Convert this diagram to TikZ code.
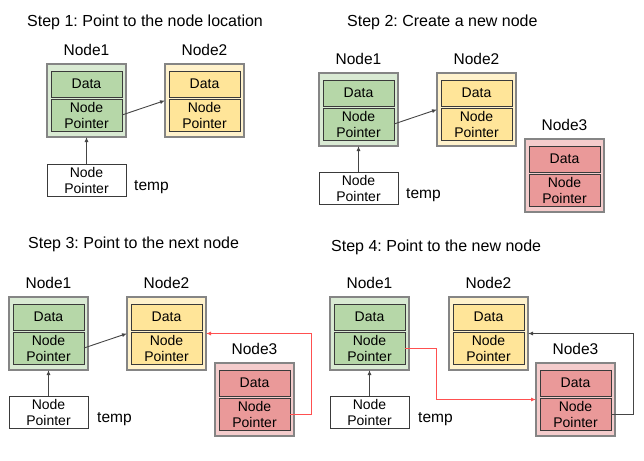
\documentclass[tikz,border=0pt]{standalone}
\usepackage{fontspec}
\setmainfont{Liberation Sans}
\usetikzlibrary{arrows.meta,calc}
\frenchspacing
\definecolor{gOut}{HTML}{D9EAD3}
\definecolor{gIn}{HTML}{B6D7A8}
\definecolor{yOut}{HTML}{FFF2CC}
\definecolor{yIn}{HTML}{FFE599}
\definecolor{rOut}{HTML}{F4CCCC}
\definecolor{rIn}{HTML}{EA9999}
\definecolor{oBord}{HTML}{858585}
\definecolor{iBord}{HTML}{3A3A3A}
\definecolor{aGray}{HTML}{454545}
\definecolor{aRed}{HTML}{FF5050}
\tikzset{
  outerbox/.style={draw=oBord, line width=1.1pt, minimum width=79pt, minimum height=73pt, inner sep=0pt, outer sep=0pt, anchor=north west},
  innerbox/.style={draw=iBord, line width=0.9pt, minimum width=71pt, inner sep=0pt, outer sep=0pt, anchor=north west, align=center, font=\fontsize{14}{16}\selectfont},
  tempbox/.style={draw=iBord, fill=white, line width=0.9pt, minimum width=79pt, minimum height=32pt, inner sep=0pt, outer sep=0pt, anchor=north west, align=center, font=\fontsize{14}{16}\selectfont},
  lbl/.style={font=\fontsize{15.5}{18}\selectfont, inner sep=0pt, anchor=base},
  ttl/.style={font=\fontsize{16}{19}\selectfont, inner sep=0pt, anchor=base west},
  tmp/.style={font=\fontsize{15.5}{18}\selectfont, inner sep=0pt, anchor=base west},
  ptr/.style={draw=aGray, line width=0.9pt, -{Latex[length=5pt,width=4pt]}},
  redptr/.style={draw=aRed, line width=0.9pt, -{Latex[length=5pt,width=4pt]}}
}
\newcommand\llnode[6]{%
  \node[outerbox, fill=#4] (#1) at (#2,#3) {};
  \node[innerbox, fill=#5, minimum height=26pt] (#1d) at ($(#1.north west)+(4,7)$) {Data};
  \node[innerbox, fill=#5, minimum height=32pt] (#1p) at ($(#1.north west)+(4,35)$) {Node\\Pointer};
  \node[lbl] (#1l) at ($(#1.north)+(0,-8.5)$) {#6};
}
\begin{document}
\begin{tikzpicture}[x=1pt,y=-1pt]
\useasboundingbox (0,0) rectangle (644,460);
% ---------- Step 1
\node[ttl] (t1) at (27,27) {Step 1: Point to the node location};
\llnode{a1}{47}{64}{gOut}{gIn}{Node1}
\llnode{a2}{165}{64}{yOut}{yIn}{Node2}
\node[tempbox] (at) at (47,164) {Node\\Pointer};
\node[tmp] (atl) at (134,190) {temp};
\draw[ptr] (a1p.east) -- (a2.west);
\draw[ptr] (at.north) -- (a1.south);
% ---------- Step 2
\node[ttl] (t2) at (347,27) {Step 2: Create a new node};
\llnode{b1}{319}{73}{gOut}{gIn}{Node1}
\llnode{b2}{437}{73}{yOut}{yIn}{Node2}
\llnode{b3}{525}{139}{rOut}{rIn}{Node3}
\node[tempbox] (bt) at (319,172) {Node\\Pointer};
\node[tmp] (btl) at (406,198) {temp};
\draw[ptr] (b1p.east) -- (b2.west);
\draw[ptr] (bt.north) -- (b1.south);
% ---------- Step 3
\node[ttl] (t3) at (28,248) {Step 3: Point to the next node};
\llnode{c1}{9}{297}{gOut}{gIn}{Node1}
\llnode{c2}{127}{297}{yOut}{yIn}{Node2}
\llnode{c3}{215}{363}{rOut}{rIn}{Node3}
\node[tempbox] (ct) at (9,396) {Node\\Pointer};
\node[tmp] (ctl) at (97,422) {temp};
\draw[ptr] (c1p.east) -- (c2.west);
\draw[ptr] (ct.north) -- (c1.south);
\coordinate (cr) at ($(c3p.east)+(21,0)$);
\draw[redptr] (c3p.east) -- (cr) |- (c2.east);
% ---------- Step 4
\node[ttl] (t4) at (331,251) {Step 4: Point to the new node};
\llnode{d1}{330}{297}{gOut}{gIn}{Node1}
\llnode{d2}{449}{297}{yOut}{yIn}{Node2}
\llnode{d3}{536}{363}{rOut}{rIn}{Node3}
\node[tempbox] (dt) at (330,396) {Node\\Pointer};
\node[tmp] (dtl) at (418,422) {temp};
\draw[ptr] (dt.north) -- (d1.south);
\coordinate (dr) at ($(d1p.east)+(31,0)$);
\draw[redptr] (d1p.east) -- (dr) |- (d3.west);
\coordinate (dk) at ($(d3p.east)+(22,0)$);
\draw[ptr] (d3p.east) -- (dk) |- (d2.east);
\end{tikzpicture}
\end{document}
